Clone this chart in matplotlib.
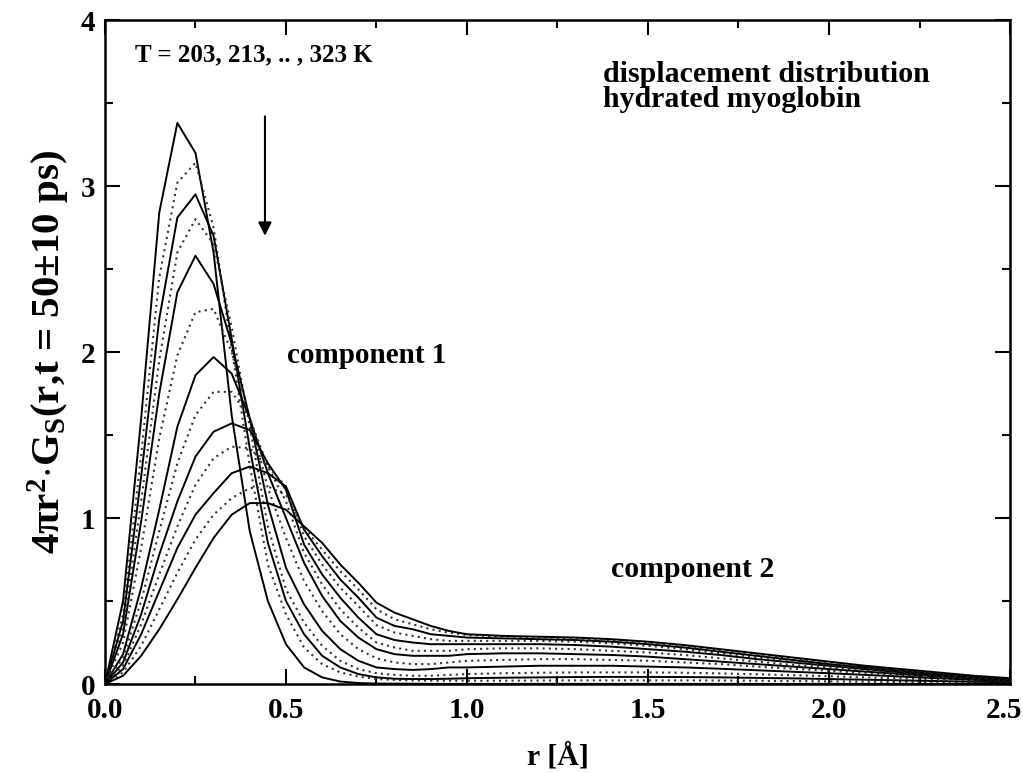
import matplotlib
matplotlib.use("Agg")
import matplotlib.pyplot as plt
import matplotlib.transforms as mtransforms
from matplotlib.ticker import MultipleLocator, FuncFormatter

plt.rcParams['font.family'] = ['Liberation Serif', 'DejaVu Serif']
plt.rcParams['font.weight'] = 'bold'
plt.rcParams['mathtext.fontset'] = 'custom'
plt.rcParams['mathtext.rm'] = 'Liberation Serif:bold'
plt.rcParams['mathtext.it'] = 'Liberation Serif:bold'
plt.rcParams['mathtext.bf'] = 'Liberation Serif:bold'

# r grid [A]: 0.05 steps up to 1.0, then 0.1 steps
r = [0.0, 0.05, 0.1, 0.15, 0.2, 0.25, 0.3, 0.35, 0.4, 0.45, 0.5,
     0.55, 0.6, 0.65, 0.7, 0.75, 0.8, 0.85, 0.9, 0.95, 1.0,
     1.1, 1.2, 1.3, 1.4, 1.5, 1.6, 1.7, 1.8, 1.9, 2.0, 2.1, 2.2, 2.3, 2.4, 2.5]

temps = [203, 213, 223, 233, 243, 253, 263, 273, 283, 293, 303, 313, 323]

g203 = [0, 0.50, 1.60, 2.84, 3.38, 3.20, 2.60, 1.62, 0.92, 0.50, 0.24,
        0.10, 0.04, 0.015, 0.006, 0.003, 0.002, 0.002, 0.001, 0.001, 0.001,
        0.001, 0.001, 0.001, 0.001, 0.001, 0.001, 0.001, 0.001, 0.001, 0.001, 0.001, 0.001, 0.001, 0.001, 0.001]
g213 = [0, 0.42, 1.38, 2.45, 3.02, 3.14, 2.75, 2.02, 1.32, 0.72, 0.42,
        0.22, 0.12, 0.07, 0.045, 0.03, 0.025, 0.022, 0.02, 0.02, 0.02,
        0.02, 0.021, 0.022, 0.022, 0.022, 0.022, 0.021, 0.02, 0.018, 0.016, 0.014, 0.012, 0.01, 0.008, 0.006]
g223 = [0, 0.38, 1.25, 2.20, 2.81, 2.95, 2.70, 2.08, 1.42, 0.85, 0.50,
        0.30, 0.17, 0.10, 0.06, 0.04, 0.032, 0.03, 0.03, 0.032, 0.035,
        0.038, 0.04, 0.042, 0.043, 0.043, 0.042, 0.04, 0.037, 0.034, 0.03, 0.026, 0.022, 0.018, 0.014, 0.01]
g233 = [0, 0.33, 1.10, 1.95, 2.60, 2.80, 2.65, 2.15, 1.55, 0.95, 0.57,
        0.37, 0.23, 0.14, 0.09, 0.065, 0.055, 0.05, 0.05, 0.055, 0.06,
        0.065, 0.068, 0.07, 0.07, 0.07, 0.068, 0.064, 0.059, 0.053, 0.047, 0.04, 0.034, 0.027, 0.02, 0.014]
g243 = [0, 0.30, 0.98, 1.75, 2.36, 2.58, 2.41, 2.05, 1.60, 1.08, 0.70,
        0.48, 0.32, 0.21, 0.14, 0.10, 0.09, 0.085, 0.09, 0.10, 0.10,
        0.105, 0.11, 0.11, 0.11, 0.105, 0.10, 0.092, 0.083, 0.074, 0.065, 0.055, 0.045, 0.035, 0.026, 0.018]
g253 = [0, 0.25, 0.82, 1.48, 1.98, 2.24, 2.26, 2.00, 1.60, 1.18, 0.88,
        0.62, 0.44, 0.30, 0.21, 0.155, 0.13, 0.12, 0.12, 0.13, 0.14,
        0.145, 0.15, 0.15, 0.145, 0.14, 0.13, 0.12, 0.105, 0.092, 0.08, 0.066, 0.054, 0.042, 0.031, 0.02]
g263 = [0, 0.18, 0.58, 1.05, 1.55, 1.86, 1.97, 1.87, 1.60, 1.27, 1.00,
        0.73, 0.53, 0.38, 0.28, 0.21, 0.18, 0.17, 0.17, 0.17, 0.18,
        0.185, 0.185, 0.18, 0.175, 0.165, 0.15, 0.135, 0.12, 0.105, 0.09, 0.075, 0.06, 0.046, 0.034, 0.022]
g273 = [0, 0.16, 0.50, 0.92, 1.33, 1.62, 1.76, 1.76, 1.60, 1.31, 1.10,
        0.79, 0.60, 0.45, 0.34, 0.25, 0.22, 0.20, 0.20, 0.20, 0.21,
        0.215, 0.215, 0.21, 0.20, 0.19, 0.175, 0.155, 0.135, 0.115, 0.10, 0.083, 0.066, 0.05, 0.037, 0.024]
g283 = [0, 0.13, 0.42, 0.78, 1.10, 1.37, 1.52, 1.57, 1.53, 1.33, 1.17,
        0.84, 0.66, 0.52, 0.40, 0.30, 0.265, 0.25, 0.24, 0.24, 0.24,
        0.24, 0.24, 0.235, 0.225, 0.21, 0.195, 0.175, 0.15, 0.13, 0.11, 0.09, 0.07, 0.054, 0.04, 0.026]
g293 = [0, 0.11, 0.36, 0.66, 0.95, 1.20, 1.36, 1.43, 1.42, 1.31, 1.19,
        0.89, 0.72, 0.58, 0.47, 0.355, 0.31, 0.29, 0.27, 0.26, 0.26,
        0.26, 0.26, 0.255, 0.245, 0.23, 0.21, 0.185, 0.16, 0.135, 0.115, 0.095, 0.075, 0.057, 0.042, 0.028]
g303 = [0, 0.09, 0.30, 0.56, 0.82, 1.02, 1.15, 1.27, 1.31, 1.27, 1.19,
        0.93, 0.77, 0.63, 0.52, 0.40, 0.35, 0.33, 0.30, 0.29, 0.28,
        0.275, 0.27, 0.265, 0.255, 0.24, 0.22, 0.195, 0.17, 0.145, 0.12, 0.10, 0.08, 0.06, 0.045, 0.03]
g313 = [0, 0.07, 0.23, 0.45, 0.67, 0.87, 1.02, 1.12, 1.18, 1.19, 1.14,
        0.94, 0.81, 0.68, 0.57, 0.45, 0.39, 0.36, 0.33, 0.31, 0.295,
        0.285, 0.28, 0.275, 0.265, 0.25, 0.23, 0.205, 0.18, 0.155, 0.13, 0.105, 0.085, 0.065, 0.048, 0.033]
g323 = [0, 0.05, 0.17, 0.33, 0.51, 0.70, 0.88, 1.02, 1.09, 1.09, 1.05,
        0.95, 0.85, 0.72, 0.61, 0.49, 0.43, 0.39, 0.35, 0.32, 0.30,
        0.29, 0.285, 0.28, 0.27, 0.255, 0.235, 0.21, 0.185, 0.16, 0.135, 0.11, 0.09, 0.07, 0.05, 0.035]

curves = [g203, g213, g223, g233, g243, g253, g263, g273, g283, g293, g303, g313, g323]

fig = plt.figure(figsize=(10.23, 7.73), dpi=100)
ax = fig.add_axes([0.1026, 0.1151, 0.8847, 0.859])

for i, g in enumerate(curves):
    if i % 2 == 0:
        ax.plot(r, g, color='black', lw=1.4, ls='-')
    else:
        ax.plot(r, g, color='#333333', lw=1.5, ls=(0, (1, 2.0)))

x_max = 2.5
ax.set_xlim(0, x_max)
ax.set_ylim(0, 4)
ax.xaxis.set_major_locator(MultipleLocator(0.5))
ax.xaxis.set_minor_locator(MultipleLocator(0.25))
ax.yaxis.set_major_locator(MultipleLocator(1))
ax.yaxis.set_minor_locator(MultipleLocator(0.5))
# the last x label is drawn separately so that it stays inside the picture
ax.xaxis.set_major_formatter(FuncFormatter(lambda v, p: '' if v > x_max - 0.01 else f'{v:.1f}'))
ax.yaxis.set_major_formatter(plt.FormatStrFormatter('%d'))
ax.tick_params(which='both', direction='in', top=True, right=True, width=1.5,
               labelsize=21)
ax.tick_params(axis='x', pad=9)
ax.tick_params(axis='y', pad=7)
ax.tick_params(which='major', length=11)
ax.tick_params(which='minor', length=6)
for s in ax.spines.values():
    s.set_linewidth(1.8)

last_tr = ax.get_xaxis_transform() + mtransforms.ScaledTranslation(0.12, -9 / 72, fig.dpi_scale_trans)
ax.text(x_max, 0, f'{x_max:.1f}', transform=last_tr, ha='right', va='top', fontsize=21,
        fontweight='bold', clip_on=False)

ax.set_xlabel('r [Å]', fontsize=21.5, fontweight='bold', labelpad=14)
ax.set_ylabel(r'4$\pi$r$^2$$\cdot$G$_S$(r,t = 50$\pm$10 ps)', fontsize=29.5,
              fontweight='bold', labelpad=6)

ax.annotate('', xy=(0.442, 2.70), xytext=(0.442, 3.42),
            arrowprops=dict(arrowstyle='-|>', lw=1.5, color='black',
                            mutation_scale=20, shrinkA=0, shrinkB=0))

ax.text(0.083, 3.79, 'T = 203, 213, .. , 323 K', fontsize=18, fontweight='bold', va='center')
ax.text(1.376, 3.67, 'displacement distribution', fontsize=21.5, fontweight='bold', va='center')
ax.text(1.376, 3.52, 'hydrated myoglobin', fontsize=21.5, fontweight='bold', va='center')
ax.text(0.503, 1.98, 'component 1', fontsize=21, fontweight='bold', va='center')
ax.text(1.398, 0.69, 'component 2', fontsize=21.5, fontweight='bold', va='center')

fig.savefig('out.png', dpi=100)
